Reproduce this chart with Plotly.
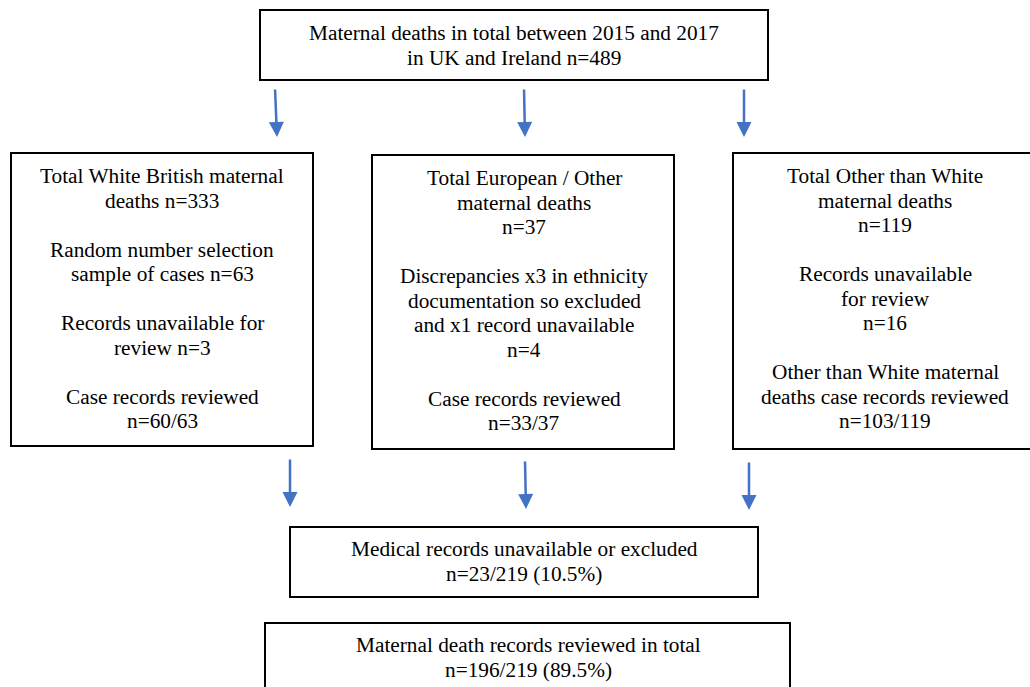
import plotly.graph_objects as go

# ---- content ----
top_lines = ["Maternal deaths in total between 2015 and 2017", "in UK and Ireland n=489"]
white_british_lines = ["Total White British maternal", "deaths n=333", "",
                       "Random number selection", "sample of cases n=63", "",
                       "Records unavailable for", "review n=3", "",
                       "Case records reviewed", "n=60/63"]
european_lines = ["Total European / Other", "maternal deaths", "n=37", "",
                  "Discrepancies x3 in ethnicity", "documentation so excluded",
                  "and x1 record unavailable", "n=4", "",
                  "Case records reviewed", "n=33/37"]
other_lines = ["Total Other than White", "maternal deaths", "n=119", "",
               "Records unavailable", "for review", "n=16", "",
               "Other than White maternal", "deaths case records reviewed", "n=103/119"]
excluded_lines = ["Medical records unavailable or excluded", "n=23/219 (10.5%)"]
reviewed_lines = ["Maternal death records reviewed in total", "n=196/219 (89.5%)"]

# ---- layout geometry (pixel space of the page) ----
W, H = 1030, 687
PITCH = 24.5
FONT = dict(family="Liberation Serif", size=21.3, color="black")
ARROW_COLOR = "#4472C4"

boxes = [
    # (x0, y0, x1, y1, text_cx, first_line_y, lines, open_side)
    (260, 10, 768, 80, 514, 33, top_lines, None),
    (11, 153, 313, 446, 162, 176, white_british_lines, None),
    (372, 155, 674, 449, 524, 178, european_lines, None),
    (733, 153, 1100, 449, 885, 176, other_lines, "right"),
    (290, 527, 758, 597, 524, 549, excluded_lines, None),
    (265, 623, 790, 760, 528, 645, reviewed_lines, "bottom"),
]

arrows = [
    # (x_tail, y_tail, x_tip, y_tip)
    (275, 88, 277, 137),
    (524, 88, 525, 137),
    (744, 88, 744, 137),
    (290, 458, 290, 507),
    (525, 460, 526, 509),
    (749, 461, 749, 510),
]


def box_path(x0, y0, x1, y1, open_side):
    if open_side == "right":
        return f"M{x1},{y0} L{x0},{y0} L{x0},{y1} L{x1},{y1}"
    if open_side == "bottom":
        return f"M{x0},{y1} L{x0},{y0} L{x1},{y0} L{x1},{y1}"
    return f"M{x0},{y0} L{x1},{y0} L{x1},{y1} L{x0},{y1} Z"


fig = go.Figure()

shapes = []
annotations = []
for x0, y0, x1, y1, cx, fy, lines, open_side in boxes:
    shapes.append(dict(type="path", xref="x", yref="y", path=box_path(x0, y0, x1, y1, open_side),
                       line=dict(color="black", width=2), layer="below"))
    for i, t in enumerate(lines):
        if not t:
            continue
        annotations.append(dict(x=cx, y=fy + i * PITCH, xref="x", yref="y", text=t,
                                showarrow=False, font=FONT, xanchor="center", yanchor="middle"))

for xt, yt, xh, yh in arrows:
    annotations.append(dict(x=xh, y=yh, ax=xt, ay=yt, xref="x", yref="y", axref="x", ayref="y",
                            text="", showarrow=True, arrowhead=2, arrowsize=1.2,
                            arrowwidth=2.5, arrowcolor=ARROW_COLOR, standoff=0))

fig.update_layout(
    width=W, height=H, margin=dict(l=0, r=0, t=0, b=0),
    paper_bgcolor="white", plot_bgcolor="white",
    xaxis=dict(range=[0, W], visible=False, fixedrange=True),
    yaxis=dict(range=[H, 0], visible=False, fixedrange=True),
    shapes=shapes, annotations=annotations, showlegend=False,
)

fig.write_html(
    "out.html",
    config={"displayModeBar": False, "staticPlot": True},
    post_script="document.body.style.margin='0';document.body.style.overflow='hidden';",
)
